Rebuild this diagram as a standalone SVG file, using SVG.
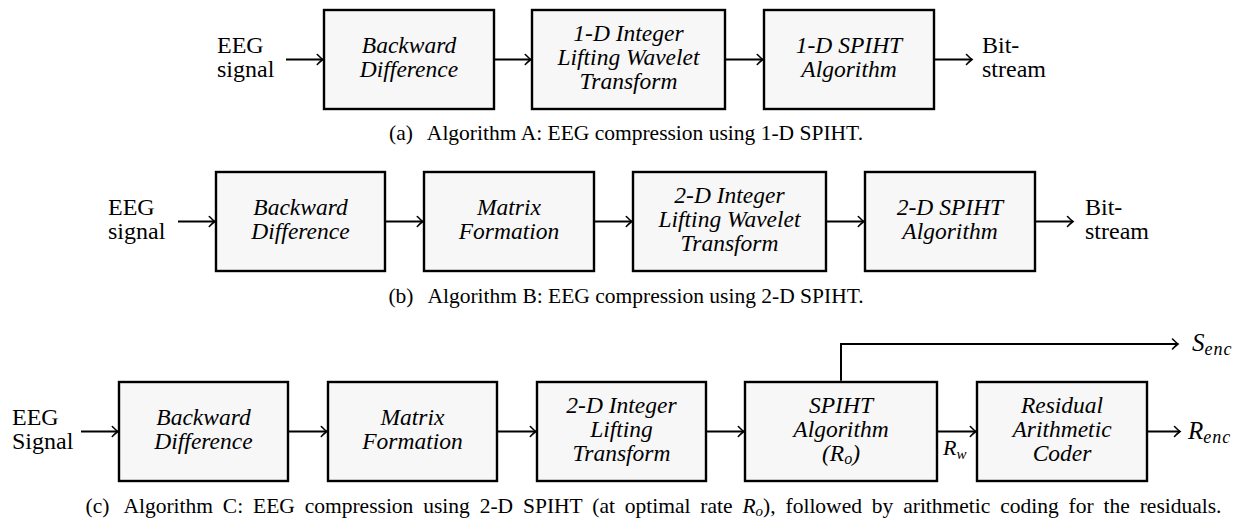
<svg xmlns="http://www.w3.org/2000/svg" width="1253" height="521" viewBox="0 0 1253 521">
<style>
.box{fill:#f7f7f7;stroke:#000;stroke-width:2.4}
.nt{font-family:"Liberation Serif","Times New Roman",serif;font-style:italic;font-size:23.5px;text-anchor:middle;fill:#000}
.lbl{font-family:"Liberation Serif","Times New Roman",serif;font-size:24px;fill:#000}
.mth{font-family:"Liberation Serif","Times New Roman",serif;font-style:italic;font-size:25px;fill:#000}
.cap{font-family:"Liberation Serif","Times New Roman",serif;font-size:21.5px;text-anchor:middle;fill:#000}
.conn line,.conn path{stroke:#000;stroke-width:2;fill:none;marker-end:url(#arr)}
</style>
<defs>
<marker id="arr" markerUnits="userSpaceOnUse" viewBox="-7 -7 9 14" markerWidth="9" markerHeight="14" refX="0" refY="0" orient="auto">
<path d="M-5.5,-5 Q-1.5,-1 0,0 Q-1.5,1 -5.5,5" fill="none" stroke="#000" stroke-width="1.6" stroke-linecap="round"/>
</marker>
</defs>

<!-- Row A -->
<g id="a-in"><text class="lbl" x="217" y="52.5">EEG</text><text class="lbl" x="217" y="76.5">signal</text></g>
<g id="a-bd"><rect class="box" x="324" y="10" width="170" height="99"/><text class="nt" x="409" y="52.5">Backward</text><text class="nt" x="409" y="76.5">Difference</text></g>
<g id="a-lwt"><rect class="box" x="532" y="10" width="193" height="99"/><text class="nt" x="628.5" y="41">1-D Integer</text><text class="nt" x="628.5" y="65">Lifting Wavelet</text><text class="nt" x="628.5" y="89">Transform</text></g>
<g id="a-spiht"><rect class="box" x="764" y="10" width="170" height="99"/><text class="nt" x="849" y="52.5">1-D SPIHT</text><text class="nt" x="849" y="76.5">Algorithm</text></g>
<g id="a-out"><text class="lbl" x="982" y="52.5">Bit-</text><text class="lbl" x="982" y="76.5">stream</text></g>
<text class="cap" x="626" y="140">(a)<tspan dx="14">Algorithm A: EEG compression using 1-D SPIHT.</tspan></text>

<!-- Row B -->
<g id="b-in"><text class="lbl" x="108" y="214.5">EEG</text><text class="lbl" x="108" y="238.5">signal</text></g>
<g id="b-bd"><rect class="box" x="216" y="172" width="169" height="99"/><text class="nt" x="300.5" y="214.5">Backward</text><text class="nt" x="300.5" y="238.5">Difference</text></g>
<g id="b-mf"><rect class="box" x="424" y="172" width="170" height="99"/><text class="nt" x="509" y="214.5">Matrix</text><text class="nt" x="509" y="238.5">Formation</text></g>
<g id="b-lwt"><rect class="box" x="633" y="172" width="193" height="99"/><text class="nt" x="729.5" y="203">2-D Integer</text><text class="nt" x="729.5" y="227">Lifting Wavelet</text><text class="nt" x="729.5" y="251">Transform</text></g>
<g id="b-spiht"><rect class="box" x="865" y="172" width="170" height="99"/><text class="nt" x="950" y="214.5">2-D SPIHT</text><text class="nt" x="950" y="238.5">Algorithm</text></g>
<g id="b-out"><text class="lbl" x="1085" y="214.5">Bit-</text><text class="lbl" x="1085" y="238.5">stream</text></g>
<text class="cap" x="626" y="303">(b)<tspan dx="14">Algorithm B: EEG compression using 2-D SPIHT.</tspan></text>

<!-- Row C -->
<g id="c-in"><text class="lbl" x="12" y="424.5">EEG</text><text class="lbl" x="12" y="448.5">Signal</text></g>
<g id="c-bd"><rect class="box" x="119" y="382" width="169" height="99"/><text class="nt" x="203.5" y="424.5">Backward</text><text class="nt" x="203.5" y="448.5">Difference</text></g>
<g id="c-mf"><rect class="box" x="328" y="382" width="169" height="99"/><text class="nt" x="412.5" y="424.5">Matrix</text><text class="nt" x="412.5" y="448.5">Formation</text></g>
<g id="c-lt"><rect class="box" x="537" y="382" width="169" height="99"/><text class="nt" x="621.5" y="413">2-D Integer</text><text class="nt" x="621.5" y="437">Lifting</text><text class="nt" x="621.5" y="461">Transform</text></g>
<g id="c-spiht"><rect class="box" x="745" y="382" width="192" height="99"/><text class="nt" x="841" y="413">SPIHT</text><text class="nt" x="841" y="437">Algorithm</text><text class="nt" x="841" y="461">(R<tspan font-size="16" dy="3">o</tspan><tspan dy="-3">)</tspan></text></g>
<g id="c-rac"><rect class="box" x="977" y="382" width="170" height="99"/><text class="nt" x="1062" y="413">Residual</text><text class="nt" x="1062" y="437">Arithmetic</text><text class="nt" x="1062" y="461">Coder</text></g>
<g id="c-senc"><text class="mth" x="1192" y="351">S<tspan font-size="18" dy="4" letter-spacing="1">enc</tspan></text></g>
<g id="c-renc"><text class="mth" x="1188" y="439">R<tspan font-size="18" dy="4" letter-spacing="1">enc</tspan></text></g>
<g id="c-rw"><text class="mth" x="943" y="455" style="font-size:22px">R<tspan font-size="15" dy="4">w</tspan></text></g>
<text class="cap" x="653.5" y="513" style="word-spacing:4.5px">(c)<tspan dx="14">Algorithm C: EEG compression using 2-D SPIHT (at optimal rate </tspan><tspan font-style="italic">R</tspan><tspan font-style="italic" font-size="15" dy="3">o</tspan><tspan dy="-3">), followed by arithmetic coding for the residuals.</tspan></text>

<g id="connectors" class="conn">
<line x1="286" y1="59.5" x2="322.8" y2="59.5"/>
<line x1="494" y1="59.5" x2="530.8" y2="59.5"/>
<line x1="725" y1="59.5" x2="762.8" y2="59.5"/>
<line x1="934" y1="59.5" x2="972" y2="59.5"/>

<line x1="178" y1="221.5" x2="214.8" y2="221.5"/>
<line x1="385" y1="221.5" x2="422.8" y2="221.5"/>
<line x1="594" y1="221.5" x2="631.8" y2="221.5"/>
<line x1="826" y1="221.5" x2="863.8" y2="221.5"/>
<line x1="1035" y1="221.5" x2="1073" y2="221.5"/>

<line x1="81" y1="431.5" x2="117.8" y2="431.5"/>
<line x1="288" y1="431.5" x2="326.8" y2="431.5"/>
<line x1="497" y1="431.5" x2="535.8" y2="431.5"/>
<line x1="706" y1="431.5" x2="743.8" y2="431.5"/>
<line x1="937" y1="431.5" x2="975.8" y2="431.5"/>
<line x1="1147" y1="431.5" x2="1180" y2="431.5"/>
<path d="M841,380.8 V344 H1178"/>
</g>
</svg>
